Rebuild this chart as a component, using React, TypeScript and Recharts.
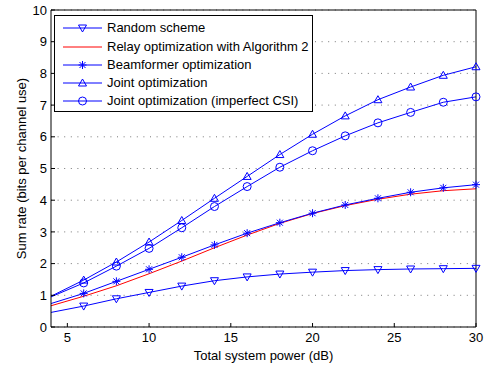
import React from 'react';
import { LineChart, Line, XAxis, YAxis, CartesianGrid, Legend, Label } from 'recharts';

const powerDb = [4, 6, 8, 10, 12, 14, 16, 18, 20, 22, 24, 26, 28, 30];
const randomScheme = [0.46, 0.66, 0.89, 1.09, 1.29, 1.46, 1.58, 1.67, 1.73, 1.78, 1.81, 1.83, 1.84, 1.85];
const relayOpt = [0.67, 0.97, 1.3, 1.68, 2.08, 2.5, 2.9, 3.27, 3.58, 3.83, 4.03, 4.19, 4.3, 4.36];
const beamformerOpt = [0.74, 1.06, 1.44, 1.82, 2.2, 2.59, 2.96, 3.29, 3.59, 3.85, 4.06, 4.25, 4.39, 4.49];
const jointOpt = [0.97, 1.48, 2.05, 2.68, 3.36, 4.06, 4.75, 5.44, 6.08, 6.66, 7.17, 7.57, 7.94, 8.21];
const jointImperfect = [0.95, 1.39, 1.92, 2.48, 3.13, 3.8, 4.43, 5.04, 5.56, 6.03, 6.44, 6.77, 7.09, 7.26];

const xTicks = [5, 10, 15, 20, 25, 30];
const yTicks = [0, 1, 2, 3, 4, 5, 6, 7, 8, 9, 10];

const seriesNames = [
  'Random scheme',
  'Relay optimization with Algorithm 2',
  'Beamformer optimization',
  'Joint optimization',
  'Joint optimization (imperfect CSI)',
];
const seriesKeys = ['random', 'relay', 'beam', 'joint', 'imperfect'];
const seriesColors = ['#0000ff', '#ff0000', '#0000ff', '#0000ff', '#0000ff'];
const seriesMarkers = ['tdown', 'none', 'star', 'tup', 'circle'];

const data = powerDb.map((p, i) => ({
  p,
  random: randomScheme[i],
  relay: relayOpt[i],
  beam: beamformerOpt[i],
  joint: jointOpt[i],
  imperfect: jointImperfect[i],
}));

const FONT = '"Liberation Sans", Arial, Helvetica, sans-serif';

function Marker({ type, cx, cy, color }: { type: string; cx: number; cy: number; color: string }) {
  const common = { fill: 'none', stroke: color, strokeWidth: 1 };
  if (type === 'tdown') {
    return <polygon points={`${cx - 4},${cy - 3} ${cx + 4},${cy - 3} ${cx},${cy + 4}`} {...common} />;
  }
  if (type === 'tup') {
    return <polygon points={`${cx - 4},${cy + 3} ${cx + 4},${cy + 3} ${cx},${cy - 4}`} {...common} />;
  }
  if (type === 'circle') {
    return <circle cx={cx} cy={cy} r={4} {...common} />;
  }
  if (type === 'star') {
    return (
      <g {...common}>
        <line x1={cx - 4} y1={cy} x2={cx + 4} y2={cy} />
        <line x1={cx} y1={cy - 4} x2={cx} y2={cy + 4} />
        <line x1={cx - 3} y1={cy - 3} x2={cx + 3} y2={cy + 3} />
        <line x1={cx - 3} y1={cy + 3} x2={cx + 3} y2={cy - 3} />
      </g>
    );
  }
  return null;
}

const makeDot = (type: string, color: string) => (props: any) => {
  const { cx, cy, payload, index } = props;
  if (payload.p === 4 || cx == null || cy == null) return <g key={`d${index}`} />;
  return (
    <g key={`d${index}`}>
      <Marker type={type} cx={cx} cy={cy} color={color} />
    </g>
  );
};

const renderLegend = () => (
  <div
    style={{
      width: 259,
      height: 97,
      boxSizing: 'border-box',
      border: '1px solid #000',
      background: '#fff',
      position: 'relative',
      fontFamily: FONT,
      fontSize: 13,
      color: '#000',
    }}
  >
    {seriesNames.map((name, i) => (
      <div
        key={name}
        style={{
          position: 'absolute',
          left: 0,
          top: 12.3 + i * 18.2 - 9,
          height: 18,
          display: 'flex',
          alignItems: 'center',
          whiteSpace: 'nowrap',
        }}
      >
        <svg width={52} height={18} style={{ display: 'block' }}>
          <line x1={8} y1={9} x2={47} y2={9} stroke={seriesColors[i]} strokeWidth={1} />
          <Marker type={seriesMarkers[i]} cx={27.5} cy={9} color={seriesColors[i]} />
        </svg>
        <span style={{ lineHeight: '18px' }}>{name}</span>
      </div>
    ))}
  </div>
);

export default function App() {
  return (
    <div style={{ position: 'absolute', left: 0, top: 0, background: '#fff' }}>
      <LineChart
        width={484}
        height={366}
        data={data}
        margin={{ top: 9, right: 7, bottom: 0, left: 0 }}
        style={{ fontFamily: FONT }}
      >
        <CartesianGrid
          xAxisId="b"
          yAxisId="l"
          vertical={false}
          stroke="#777"
          strokeDasharray="1 5.6"
        />
        <XAxis
          xAxisId="b"
          dataKey="p"
          type="number"
          domain={[4, 30]}
          ticks={xTicks}
          height={39}
          tickSize={-4}
          tickMargin={10}
          axisLine={{ stroke: '#000' }}
          tickLine={{ stroke: '#000' }}
          tick={{ fill: '#000', fontSize: 13, fontFamily: FONT }}
          interval={0}
        >
          <Label
            content={() => (
              <text x={263.5} y={360} textAnchor="middle" fontSize={13} fontFamily={FONT} fill="#000">
                Total system power (dB)
              </text>
            )}
          />
        </XAxis>
        <XAxis
          xAxisId="t"
          orientation="top"
          dataKey="p"
          type="number"
          domain={[4, 30]}
          ticks={xTicks}
          height={1}
          tickSize={-4}
          tick={false}
          axisLine={{ stroke: '#000' }}
          tickLine={{ stroke: '#000' }}
          interval={0}
        />
        <YAxis
          yAxisId="l"
          type="number"
          domain={[0, 10]}
          ticks={yTicks}
          width={51}
          tickSize={-4}
          tickMargin={8}
          axisLine={{ stroke: '#000' }}
          tickLine={{ stroke: '#000' }}
          tick={{ fill: '#000', fontSize: 13, fontFamily: FONT }}
          interval={0}
        >
          <Label
            content={() => (
              <text
                x={26}
                y={168.5}
                textAnchor="middle"
                fontSize={13}
                fontFamily={FONT}
                fill="#000"
                transform="rotate(-90 26 168.5)"
              >
                Sum rate (bits per channel use)
              </text>
            )}
          />
        </YAxis>
        <YAxis
          yAxisId="r"
          orientation="right"
          type="number"
          domain={[0, 10]}
          ticks={yTicks}
          width={1}
          tickSize={-4}
          tick={false}
          axisLine={{ stroke: '#000' }}
          tickLine={{ stroke: '#000' }}
          interval={0}
        />
        {seriesKeys.map((k, i) => (
          <Line
            key={k}
            xAxisId="b"
            yAxisId="l"
            type="linear"
            dataKey={k}
            name={seriesNames[i]}
            stroke={seriesColors[i]}
            strokeWidth={1}
            dot={seriesMarkers[i] === 'none' ? false : makeDot(seriesMarkers[i], seriesColors[i])}
            activeDot={false}
            isAnimationActive={false}
          />
        ))}
        <Legend
          layout="vertical"
          align="center"
          verticalAlign="middle"
          wrapperStyle={{ position: 'absolute', left: 54, top: 15, width: 259, height: 97 }}
          content={renderLegend}
        />
      </LineChart>
    </div>
  );
}
